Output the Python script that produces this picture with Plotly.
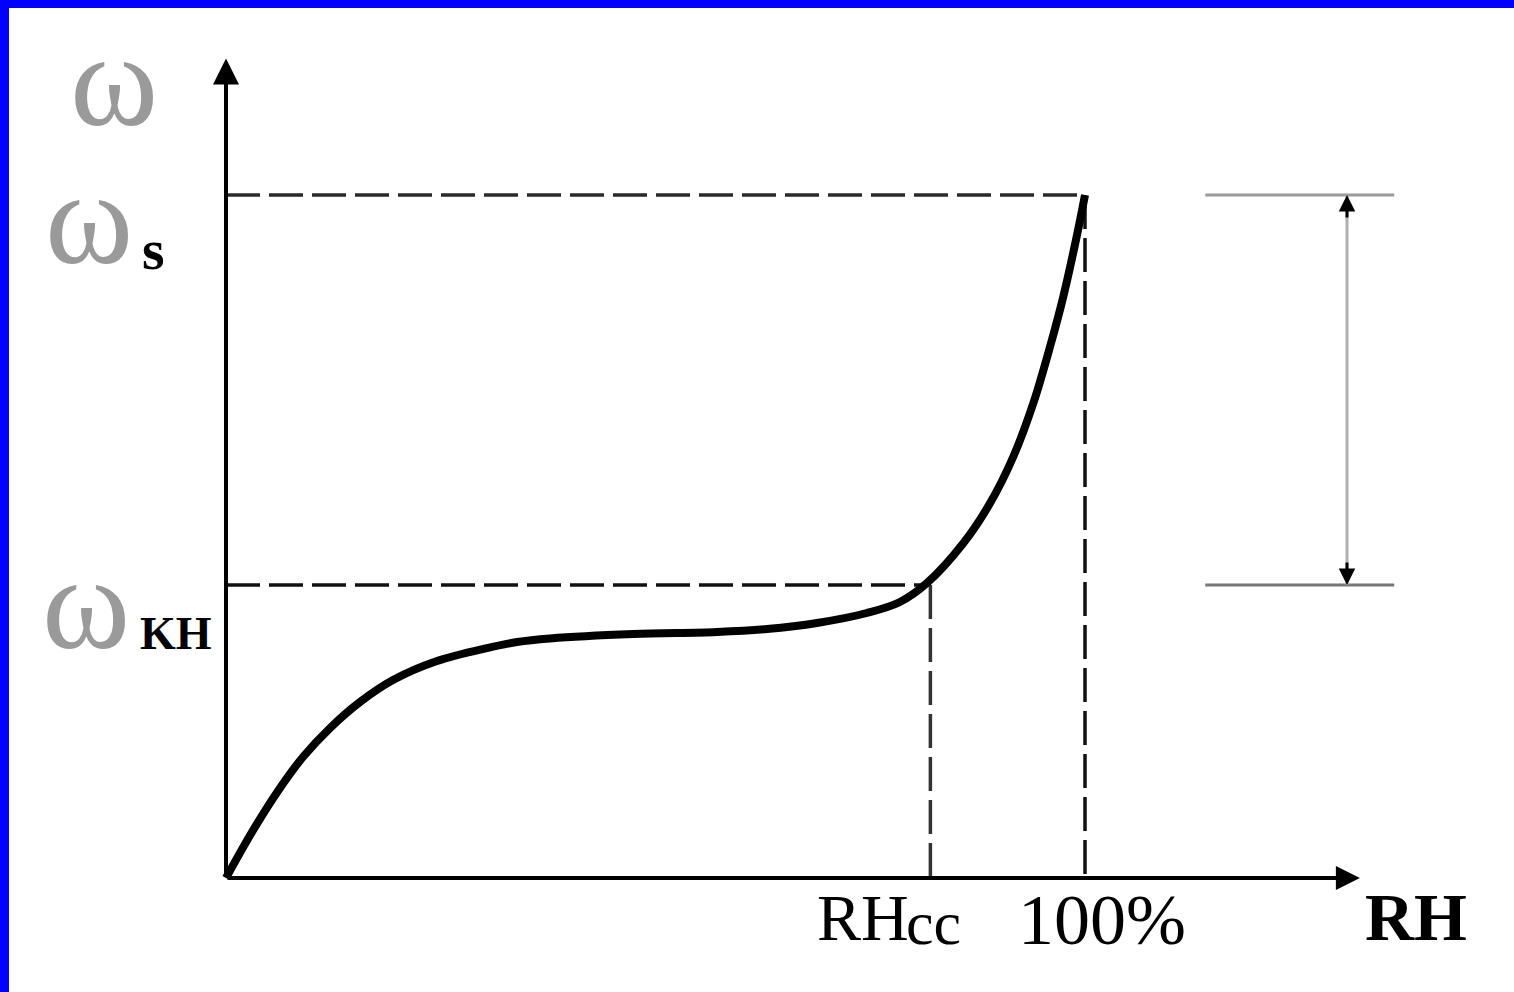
import plotly.graph_objects as go

# ---- data (RH in %, moisture content omega relative to omega_s) ----
rh_curve = [0, 3.03, 6.05, 8.96, 12.11, 15.6, 19.44, 24.56, 30.38, 33.88, 37.72, 47.4, 57.16,
            62.98, 68.8, 74.6, 78.46, 81.57, 85.83, 88.94, 91.65, 93.98, 96.04, 97.47, 99.03, 100.0]
w_curve = [0.0, 0.0673, 0.1274, 0.1772, 0.2196, 0.2577, 0.2899, 0.3177, 0.3367, 0.3455, 0.3507,
           0.3572, 0.3602, 0.3646, 0.3734, 0.388, 0.4041, 0.4314, 0.49, 0.5486, 0.6168, 0.695,
           0.7829, 0.8511, 0.939, 1.0]

RH_CC = 82.0
RH_SAT = 100.0
W_S = 1.0
W_KH = 0.429
X_AXIS_END = 132.0
Y_AXIS_END = 1.20
BRACKET_X = [114.0, 136.0]
BRACKET_ARROW_X = 130.5

tick_labels_x = ["RH", "100%"]

# ---- figure ----
W, H = 1514, 992
PX_X = 8.59       # px per % RH
PX_Y = 683.0      # px per omega unit
X0_PX, Y0_PX = 226, 878
x_range = [-X0_PX / PX_X, (W - X0_PX) / PX_X]
y_range = [-(H - Y0_PX) / PX_Y, Y0_PX / PX_Y]

fig = go.Figure()

dash = "34px,9px"
# dashed guides
fig.add_trace(go.Scatter(x=[0, RH_SAT], y=[W_S, W_S], mode="lines",
                         line=dict(color="#2a2a2a", width=3.5, dash=dash), hoverinfo="skip"))
fig.add_trace(go.Scatter(x=[0, RH_CC], y=[W_KH, W_KH], mode="lines",
                         line=dict(color="#111", width=3.5, dash=dash), hoverinfo="skip"))
fig.add_trace(go.Scatter(x=[RH_CC, RH_CC], y=[W_KH, 0], mode="lines",
                         line=dict(color="#333", width=3.5, dash=dash), hoverinfo="skip"))
fig.add_trace(go.Scatter(x=[RH_SAT, RH_SAT], y=[W_S, 0], mode="lines",
                         line=dict(color="#111", width=3.5, dash=dash), hoverinfo="skip"))

# main curve
fig.add_trace(go.Scatter(x=rh_curve, y=w_curve, mode="lines",
                         line=dict(color="black", width=8, shape="spline", smoothing=1.0),
                         hoverinfo="skip"))

# right bracket lines
fig.add_trace(go.Scatter(x=BRACKET_X, y=[W_S, W_S], mode="lines",
                         line=dict(color="#9a9a9a", width=3), hoverinfo="skip"))
fig.add_trace(go.Scatter(x=BRACKET_X, y=[W_KH, W_KH], mode="lines",
                         line=dict(color="#777", width=3), hoverinfo="skip"))
fig.add_trace(go.Scatter(x=[BRACKET_ARROW_X, BRACKET_ARROW_X], y=[W_S, W_KH], mode="lines",
                         line=dict(color="#b0b0b0", width=3), hoverinfo="skip"))

annotations = []
# axes with arrows
annotations.append(dict(x=0, y=Y_AXIS_END, ax=0, ay=0, xref="x", yref="y", axref="x", ayref="y",
                        showarrow=True, arrowhead=2, arrowsize=1.3, arrowwidth=4,
                        arrowcolor="black", text=""))
annotations.append(dict(x=X_AXIS_END, y=0, ax=0, ay=0, xref="x", yref="y", axref="x", ayref="y",
                        showarrow=True, arrowhead=2, arrowsize=1.2, arrowwidth=4,
                        arrowcolor="black", text=""))
# bracket arrow heads
annotations.append(dict(x=BRACKET_ARROW_X, y=W_S, ax=BRACKET_ARROW_X, ay=W_S - 0.035,
                        xref="x", yref="y", axref="x", ayref="y", showarrow=True,
                        arrowhead=2, arrowsize=1.1, arrowwidth=3, arrowcolor="black", text=""))
annotations.append(dict(x=BRACKET_ARROW_X, y=W_KH, ax=BRACKET_ARROW_X, ay=W_KH + 0.035,
                        xref="x", yref="y", axref="x", ayref="y", showarrow=True,
                        arrowhead=2, arrowsize=1.1, arrowwidth=3, arrowcolor="black", text=""))

serif = "Liberation Serif"
omega_font = dict(family=serif, size=134, color="#9a9a9a")
# omega labels
annotations.append(dict(x=-13.0, y=1.168, xref="x", yref="y", text="ω", showarrow=False,
                        font=omega_font, xanchor="center", yanchor="middle"))
annotations.append(dict(x=-15.9, y=0.967, xref="x", yref="y", text="ω", showarrow=False,
                        font=omega_font, xanchor="center", yanchor="middle"))
annotations.append(dict(x=-8.4, y=0.92, xref="x", yref="y", text="<b>s</b>", showarrow=False,
                        font=dict(family=serif, size=58, color="black"),
                        xanchor="center", yanchor="middle"))
annotations.append(dict(x=-16.3, y=0.402, xref="x", yref="y", text="ω", showarrow=False,
                        font=omega_font, xanchor="center", yanchor="middle"))
annotations.append(dict(x=-5.8, y=0.358, xref="x", yref="y", text="<b>KH</b>", showarrow=False,
                        font=dict(family=serif, size=46, color="black"),
                        xanchor="center", yanchor="middle"))
# x labels
annotations.append(dict(x=RH_CC - 13.4, y=-0.058, xref="x", yref="y",
                        text=tick_labels_x[0], showarrow=False,
                        font=dict(family=serif, size=66, color="black"),
                        xanchor="left", yanchor="middle"))
annotations.append(dict(x=RH_CC - 3.1, y=-0.066, xref="x", yref="y", text="cc", showarrow=False,
                        font=dict(family=serif, size=62, color="black"),
                        xanchor="left", yanchor="middle"))
annotations.append(dict(x=RH_SAT + 2.0, y=-0.062, xref="x", yref="y", text=tick_labels_x[1],
                        showarrow=False, font=dict(family=serif, size=72, color="black"),
                        xanchor="center", yanchor="middle"))
annotations.append(dict(x=X_AXIS_END + 6.5, y=-0.057, xref="x", yref="y", text="<b>" + tick_labels_x[0] + "</b>",
                        showarrow=False, font=dict(family=serif, size=68, color="black"),
                        xanchor="center", yanchor="middle"))

shapes = [
    dict(type="rect", xref="paper", yref="paper", x0=0, x1=9 / W, y0=0, y1=1,
         fillcolor="#0000ff", line=dict(width=0), layer="above"),
    dict(type="rect", xref="paper", yref="paper", x0=0, x1=1, y0=1 - 8 / H, y1=1,
         fillcolor="#0000ff", line=dict(width=0), layer="above"),
]

fig.update_layout(
    width=W, height=H,
    margin=dict(l=0, r=0, t=0, b=0),
    paper_bgcolor="white", plot_bgcolor="white",
    showlegend=False,
    xaxis=dict(range=x_range, visible=False, fixedrange=True),
    yaxis=dict(range=y_range, visible=False, fixedrange=True),
    annotations=annotations,
    shapes=shapes,
)

fig.write_html("out.html", config={"displayModeBar": False},
               post_script="document.body.style.margin='0';document.body.style.overflow='hidden';")
